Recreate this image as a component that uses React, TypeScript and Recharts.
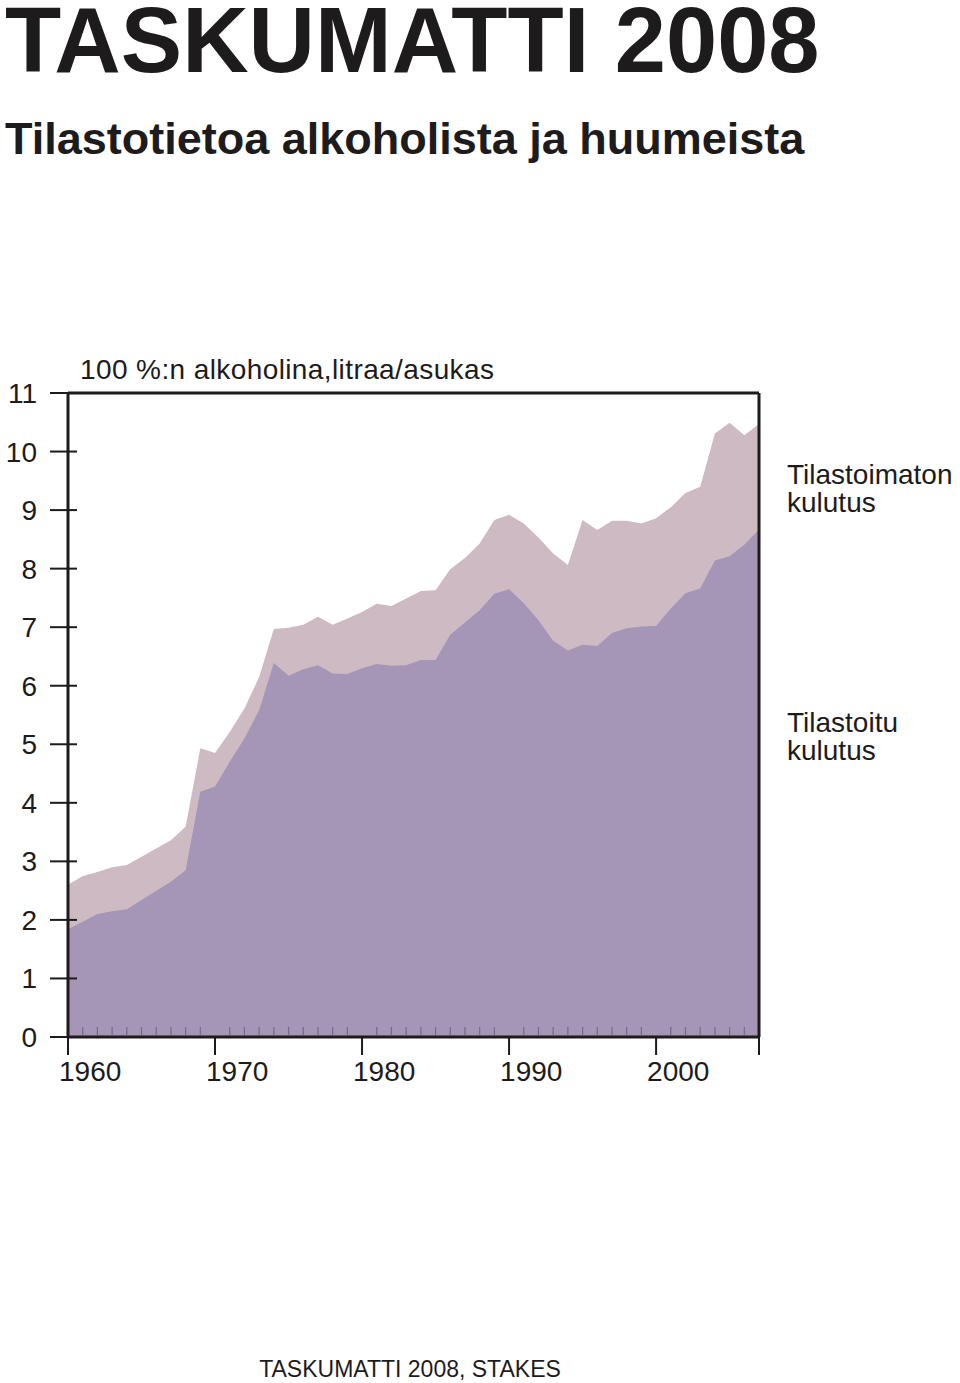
import { AreaChart, Area, XAxis, YAxis, ReferenceLine } from "recharts";

const years = [
  1960, 1961, 1962, 1963, 1964, 1965, 1966, 1967, 1968, 1969, 1970, 1971,
  1972, 1973, 1974, 1975, 1976, 1977, 1978, 1979, 1980, 1981, 1982, 1983,
  1984, 1985, 1986, 1987, 1988, 1989, 1990, 1991, 1992, 1993, 1994, 1995,
  1996, 1997, 1998, 1999, 2000, 2001, 2002, 2003, 2004, 2005, 2006, 2007,
];

// tilastoitu kulutus (recorded)
const recorded = [
  1.84, 1.97, 2.1, 2.15, 2.18, 2.34, 2.5, 2.65, 2.85, 4.19, 4.28, 4.7,
  5.1, 5.58, 6.39, 6.17, 6.28, 6.35, 6.21, 6.2, 6.3, 6.37, 6.34, 6.35,
  6.44, 6.44, 6.87, 7.08, 7.29, 7.57, 7.65, 7.41, 7.12, 6.77, 6.6, 6.7,
  6.68, 6.9, 6.98, 7.01, 7.02, 7.32, 7.58, 7.66, 8.14, 8.21, 8.41, 8.67,
];

// kokonaiskulutus (recorded + unrecorded)
const total = [
  2.6, 2.75, 2.82, 2.9, 2.94, 3.08, 3.22, 3.36, 3.59, 4.93, 4.85, 5.21,
  5.61, 6.15, 6.97, 6.99, 7.04, 7.18, 7.04, 7.15, 7.26, 7.4, 7.36, 7.49,
  7.62, 7.63, 7.99, 8.18, 8.43, 8.83, 8.92, 8.77, 8.53, 8.26, 8.06, 8.83,
  8.66, 8.82, 8.82, 8.77, 8.86, 9.05, 9.29, 9.4, 10.31, 10.49, 10.28, 10.47,
];

const decadeLabels = [1960, 1970, 1980, 1990, 2000];
const yTicks = [0, 1, 2, 3, 4, 5, 6, 7, 8, 9, 10, 11];

const FONT = '"Liberation Sans", Arial, Helvetica, sans-serif';
const INK = "#1d1b1c";

const data = years.map((year, i) => ({
  year,
  recorded: recorded[i],
  total: total[i],
}));

function YearTick({ x, y, payload }: any) {
  const v = payload.value;
  const major = decadeLabels.includes(v) || v === years[years.length - 1];
  if (!major) {
    return (
      <line x1={x} y1={y - 2} x2={x} y2={y - 10} stroke="#75688a" strokeWidth={1.2} />
    );
  }
  return (
    <g>
      <line x1={x} y1={y} x2={x} y2={y + 18} stroke={INK} strokeWidth={2} />
      {decadeLabels.includes(v) && (
        <text
          x={x - 9}
          y={y + 44}
          fill={INK}
          fontSize={28}
          fontFamily={FONT}
          textAnchor="start"
        >
          {v}
        </text>
      )}
    </g>
  );
}

function ValueTick({ x, y, payload }: any) {
  return (
    <g>
      <line x1={x - 18} y1={y} x2={x + 9} y2={y} stroke={INK} strokeWidth={2} />
      <text
        x={x - 31}
        y={y + 10}
        fill={INK}
        fontSize={28}
        fontFamily={FONT}
        textAnchor="end"
      >
        {payload.value}
      </text>
    </g>
  );
}

const lineStyle = (left: number, top: number, size: number) => ({
  position: "absolute" as const,
  left,
  top,
  fontSize: size,
  lineHeight: `${size}px`,
  whiteSpace: "nowrap" as const,
});

export default function App() {
  return (
    <div
      style={{
        position: "absolute",
        left: 0,
        top: 0,
        width: 960,
        height: 1383,
        background: "#fff",
        fontFamily: FONT,
        color: INK,
        overflow: "hidden",
      }}
    >
      <div
        style={{
          position: "absolute",
          left: 5,
          top: 0,
          fontSize: 92,
          fontWeight: 700,
          lineHeight: "80px",
          whiteSpace: "nowrap",
        }}
      >
        TASKUMATTI 2008
      </div>
      <div
        style={{
          position: "absolute",
          left: 5,
          top: 111,
          fontSize: 45,
          fontWeight: 700,
          lineHeight: "56px",
          whiteSpace: "nowrap",
        }}
      >
        Tilastotietoa alkoholista ja huumeista
      </div>

      <AreaChart
        width={960}
        height={1383}
        data={data}
        margin={{ top: 393, left: 0, right: 201, bottom: 286 }}
        style={{ position: "absolute", left: 0, top: 0 }}
      >
        <Area
          type="linear"
          dataKey="total"
          stroke="none"
          fill="#cdbac2"
          fillOpacity={1}
          isAnimationActive={false}
        />
        <Area
          type="linear"
          dataKey="recorded"
          stroke="none"
          fill="#a595b7"
          fillOpacity={1}
          isAnimationActive={false}
        />
        <XAxis
          dataKey="year"
          type="number"
          domain={[1960, 2007]}
          ticks={years}
          interval={0}
          height={60}
          tickSize={0}
          tickMargin={0}
          tickLine={false}
          tick={<YearTick />}
          axisLine={{ stroke: INK, strokeWidth: 3 }}
        />
        <YAxis
          type="number"
          domain={[0, 11]}
          ticks={yTicks}
          interval={0}
          width={68}
          tickSize={0}
          tickMargin={0}
          tickLine={false}
          tick={<ValueTick />}
          axisLine={{ stroke: INK, strokeWidth: 3 }}
        />
        <ReferenceLine y={11} stroke={INK} strokeWidth={3} />
        <ReferenceLine x={2007} stroke={INK} strokeWidth={3} />
      </AreaChart>

      <div style={{ ...lineStyle(80, 356, 28), letterSpacing: 0.4 }}>
        100 %:n alkoholina,litraa/asukas
      </div>
      <div style={lineStyle(787, 461, 28)}>Tilastoimaton</div>
      <div style={lineStyle(787, 489, 28)}>kulutus</div>
      <div style={lineStyle(787, 709, 28)}>Tilastoitu</div>
      <div style={lineStyle(787, 737, 28)}>kulutus</div>
      <div
        style={{
          position: "absolute",
          left: 0,
          width: 820,
          top: 1354,
          textAlign: "center",
          fontSize: 23,
          lineHeight: "30px",
          whiteSpace: "nowrap",
        }}
      >
        TASKUMATTI 2008, STAKES
      </div>
    </div>
  );
}
